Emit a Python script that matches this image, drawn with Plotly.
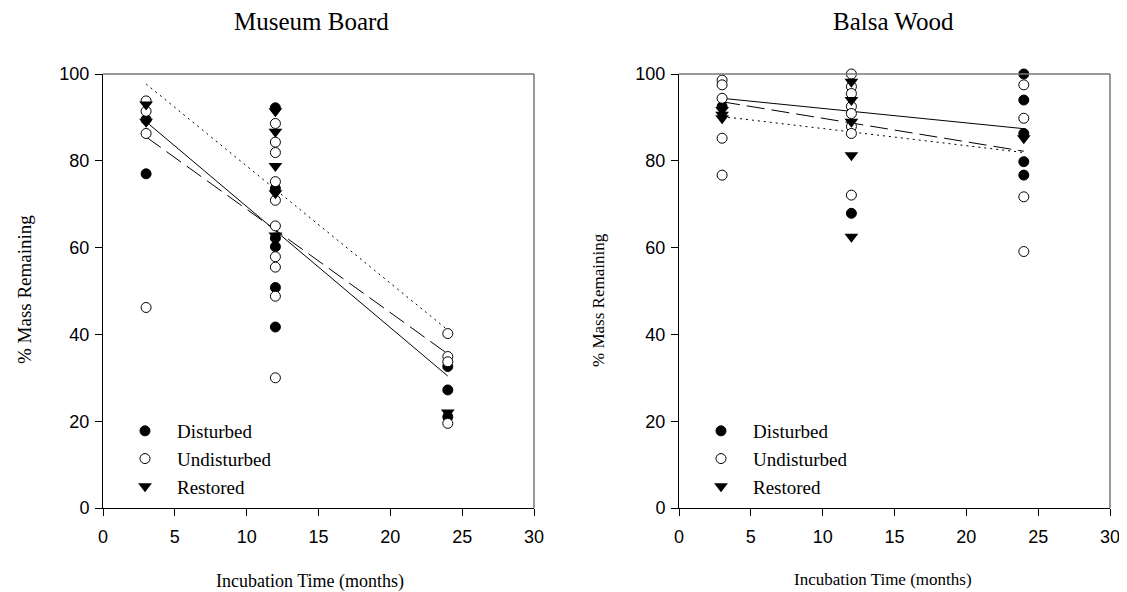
import plotly.graph_objects as go

# ---------------- data ----------------
# Museum Board
mb_dist_x = [3, 3, 12, 12, 12, 12, 12, 12, 24, 24, 24]
mb_dist_y = [89.5, 77.0, 92.2, 73.6, 62.2, 60.2, 50.8, 41.7, 32.6, 27.2, 21.0]
mb_und_x = [3, 3, 3, 3, 12, 12, 12, 12, 12, 12, 12, 12, 12, 12, 24, 24, 24, 24]
mb_und_y = [93.8, 91.4, 86.3, 46.2, 88.6, 84.3, 81.9, 75.2, 70.9, 65.0, 57.9, 55.5, 48.8, 30.0, 40.2, 34.9, 33.7, 19.5]
mb_res_x = [3, 3, 12, 12, 12, 12, 12, 24]
mb_res_y = [93.0, 89.0, 91.4, 86.7, 78.8, 72.5, 62.8, 22.0]

# Balsa Wood
bw_dist_x = [3, 12, 24, 24, 24, 24, 24]
bw_dist_y = [92.5, 67.9, 100.0, 94.0, 86.3, 79.8, 76.7]
bw_und_x = [3, 3, 3, 3, 3, 12, 12, 12, 12, 12, 12, 12, 12, 24, 24, 24, 24]
bw_und_y = [98.6, 97.5, 94.4, 85.2, 76.7, 100.0, 97.1, 95.5, 92.5, 90.9, 87.9, 86.3, 72.1, 97.5, 89.8, 71.7, 59.1]
bw_res_x = [3, 3, 3, 12, 12, 12, 12, 12, 24]
bw_res_y = [91.7, 90.6, 89.8, 98.2, 94.0, 89.0, 81.3, 62.5, 85.2]

# regression lines (values at x = 3 and x = 24)
fit_x = [3, 24]
mb_fit_solid = [89.0, 30.4]
mb_fit_dash = [85.5, 35.5]
mb_fit_dot = [97.7, 41.0]
bw_fit_solid = [94.4, 87.4]
bw_fit_dash = [93.6, 82.2]
bw_fit_dot = [90.2, 81.9]

tick_vals_x = [0, 5, 10, 15, 20, 25, 30]
tick_vals_y = [0, 20, 40, 60, 80, 100]

SERIF = "Liberation Serif"
SANS = "Liberation Sans"

fig = go.Figure()

def add_panel(xa, ya, legend, d, u, r, fits):
    for yv, dash in zip(fits, ["solid", "18px,7px", "2px,4px"]):
        fig.add_trace(go.Scatter(x=fit_x, y=yv, mode="lines", xaxis=xa, yaxis=ya,
                                 line=dict(color="black", width=1, dash=dash),
                                 showlegend=False, hoverinfo="skip"))
    fig.add_trace(go.Scatter(x=d[0], y=d[1], mode="markers", name="Disturbed", xaxis=xa, yaxis=ya,
                             legend=legend, cliponaxis=False,
                             marker=dict(symbol="circle", size=10, color="black",
                                         line=dict(color="black", width=1))))
    fig.add_trace(go.Scatter(x=u[0], y=u[1], mode="markers", name="Undisturbed", xaxis=xa, yaxis=ya,
                             legend=legend, cliponaxis=False,
                             marker=dict(symbol="circle", size=10, color="white",
                                         line=dict(color="black", width=1))))
    fig.add_trace(go.Scatter(x=r[0], y=r[1], mode="markers", name="Restored", xaxis=xa, yaxis=ya,
                             legend=legend, cliponaxis=False,
                             marker=dict(symbol="triangle-down", size=12, color="black",
                                         line=dict(color="black", width=0))))

add_panel("x", "y", "legend", (mb_dist_x, mb_dist_y), (mb_und_x, mb_und_y), (mb_res_x, mb_res_y),
          [mb_fit_solid, mb_fit_dash, mb_fit_dot])
add_panel("x2", "y2", "legend2", (bw_dist_x, bw_dist_y), (bw_und_x, bw_und_y), (bw_res_x, bw_res_y),
          [bw_fit_solid, bw_fit_dash, bw_fit_dot])

# the page body has an 8px margin, so the figure is 8px smaller and all
# reference pixel positions are shifted by 8px
OFF = 8
W, H = 1127 - OFF, 592 - OFF

def px(p):
    return (p - OFF) / W

def py(p):
    return 1 - (p - OFF) / H

xd1 = [px(103), px(534)]
xd2 = [px(679), px(1110)]
yd = [py(508), py(74)]

axis_common = dict(showgrid=False, zeroline=False, showline=True, linecolor="black", linewidth=1,
                   ticks="outside", ticklen=7, tickcolor="black", tickwidth=1, automargin=False,
                   tickfont=dict(family=SANS, size=18, color="black"))
xax = dict(range=[0, 30], tickvals=tick_vals_x, ticklabelstandoff=5, **axis_common)
yax = dict(range=[0, 100], tickvals=tick_vals_y, ticklabelstandoff=2, **axis_common)

legend_common = dict(xanchor="left", yanchor="top", bgcolor="rgba(0,0,0,0)",
                     font=dict(family=SERIF, size=19, color="black"),
                     itemwidth=54, tracegroupgap=0)

fig.update_layout(
    width=W, height=H,
    margin=dict(l=0, r=0, t=0, b=0, autoexpand=False),
    paper_bgcolor="white", plot_bgcolor="white",
    xaxis=dict(domain=xd1, anchor="y", **xax),
    yaxis=dict(domain=yd, anchor="x", **yax),
    xaxis2=dict(domain=xd2, anchor="y2", **xax),
    yaxis2=dict(domain=yd, anchor="x2", **yax),
    legend=dict(x=px(113), y=py(412), **legend_common),
    legend2=dict(x=px(689), y=py(412), **legend_common),
    showlegend=True,
)

# frame (top and right edges, gray)
for xr, yr in [("x domain", "y domain"), ("x2 domain", "y2 domain")]:
    fig.add_shape(type="line", xref=xr, yref=yr, x0=0, x1=1, y0=1, y1=1,
                  line=dict(color="#777777", width=1.5))
    fig.add_shape(type="line", xref=xr, yref=yr, x0=1, x1=1, y0=0, y1=1,
                  line=dict(color="#777777", width=1.5))

def ann(text, x, y, size, angle=0):
    fig.add_annotation(text=text, x=px(x), y=py(y), xref="paper", yref="paper",
                       showarrow=False, textangle=angle, xanchor="center", yanchor="middle",
                       font=dict(family=SERIF, size=size, color="black"))

ann("Museum Board", 311, 22, 25)
ann("Balsa Wood", 893, 22, 25)
ann("Incubation Time (months)", 310, 581, 18)
ann("Incubation Time (months)", 883, 579, 17)
ann("% Mass Remaining", 24, 290, 19, -90)
ann("% Mass Remaining", 598, 300, 17, -90)

fig.write_html("out.html")
